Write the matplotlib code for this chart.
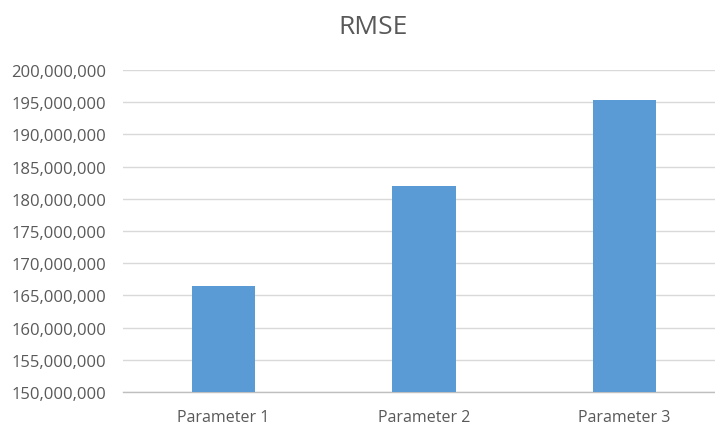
import matplotlib
matplotlib.use("Agg")
import matplotlib.pyplot as plt
from matplotlib.ticker import FuncFormatter, MultipleLocator

categories = ["Parameter 1", "Parameter 2", "Parameter 3"]
rmse_values = [166_500_000, 182_000_000, 195_300_000]

plt.rcParams["font.family"] = ["Open Sans", "DejaVu Sans"]

fig = plt.figure(figsize=(7.15, 4.27), dpi=100)
ax = fig.add_axes([123 / 715, 1 - 393 / 427, 602 / 715, 322 / 427])

x = range(len(categories))
ax.bar(x, rmse_values, width=0.315, color="#5B9BD5", zorder=3)

ax.set_xlim(-0.5, len(categories) - 0.5)
ax.set_ylim(150_000_000, 200_000_000)
ax.yaxis.set_major_locator(MultipleLocator(5_000_000))
ax.yaxis.set_major_formatter(FuncFormatter(lambda v, _: f"{v:,.0f}"))
ax.set_xticks(list(x))
ax.set_xticklabels(categories)

ax.grid(axis="y", color="#D9D9D9", linewidth=1.0, zorder=0)
for side in ("top", "right", "left"):
    ax.spines[side].set_visible(False)
ax.spines["bottom"].set_color("#BFBFBF")
ax.spines["bottom"].set_linewidth(1.0)
ax.tick_params(axis="both", length=0, labelcolor="#595959")
ax.tick_params(axis="y", labelsize=12, pad=12)
ax.tick_params(axis="x", labelsize=11.5, pad=12)

fig.text(373.5 / 715, 1 - 28 / 427, "RMSE",
         ha="center", va="center", fontsize=19, color="#595959")

fig.savefig("out.png", dpi=100)
